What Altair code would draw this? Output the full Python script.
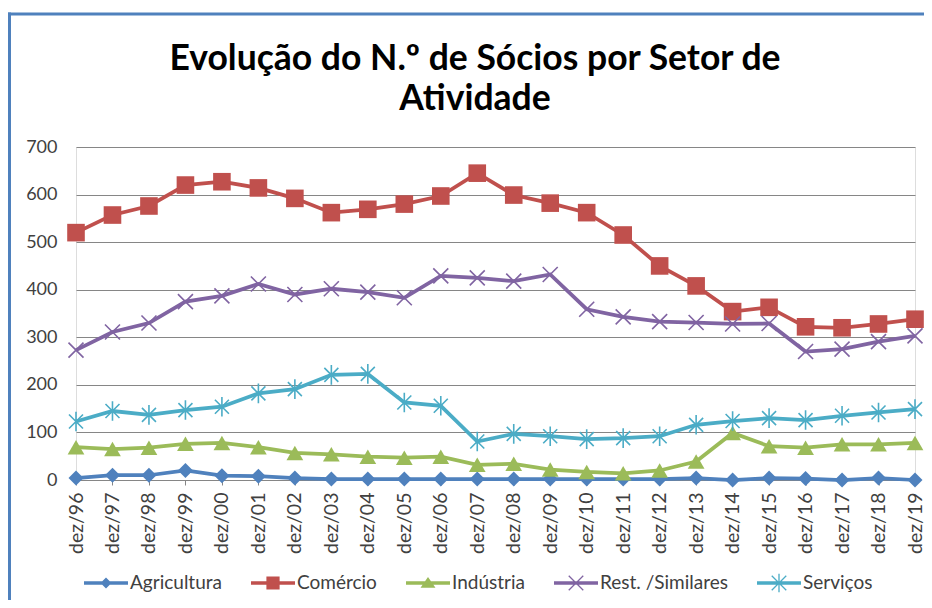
import altair as alt
import pandas as pd

anos = ["dez/96", "dez/97", "dez/98", "dez/99", "dez/00", "dez/01", "dez/02", "dez/03",
        "dez/04", "dez/05", "dez/06", "dez/07", "dez/08", "dez/09", "dez/10", "dez/11",
        "dez/12", "dez/13", "dez/14", "dez/15", "dez/16", "dez/17", "dez/18", "dez/19"]

agricultura = [4, 10, 10, 20, 9, 8, 4, 2, 2, 2, 2, 2, 2, 2, 2, 2, 2, 4, 0, 4, 3, 0, 4, 0]
comercio = [520, 557, 576, 620, 627, 614, 592, 562, 569, 580, 597, 645, 599, 582, 562, 515,
            450, 408, 354, 363, 322, 320, 328, 338]
industria = [69, 65, 68, 76, 78, 69, 57, 54, 49, 47, 49, 32, 34, 22, 17, 14, 20, 39, 99, 71,
             68, 75, 75, 78]
restauracao = [273, 311, 330, 375, 387, 412, 390, 402, 395, 383, 429, 425, 418, 432, 359, 343,
               333, 331, 328, 329, 270, 275, 291, 303]
servicos = [123, 145, 137, 147, 154, 182, 191, 221, 223, 163, 156, 81, 97, 92, 86, 88, 92,
            116, 124, 130, 126, 135, 142, 149]

setores = ["Agricultura", "Comércio", "Indústria", "Rest. /Similares", "Serviços"]
cores = ["#4F81BD", "#C0504D", "#9BBB59", "#8064A2", "#4BACC6"]
y_ticks = [0, 100, 200, 300, 400, 500, 600, 700]
titulo = ["Evolução do N.º de Sócios por Setor de", "Atividade"]

valores = [agricultura, comercio, industria, restauracao, servicos]
rows = []
for s, vals in zip(setores, valores):
    for a, v in zip(anos, vals):
        rows.append({"Ano": a, "Setor": s, "Valor": v})
df = pd.DataFrame(rows)

FONT = "Lato"
W, H = 839, 333

x_enc = alt.X("Ano:O", sort=anos, scale=alt.Scale(type="point", padding=0),
              axis=alt.Axis(title=None, labelAngle=270, labelFont=FONT, labelFontSize=19.5,
                            labelColor="#404040", tickSize=5, tickColor="#868686",
                            domainColor="#868686", labelPadding=7, grid=False))
y_enc = alt.Y("Valor:Q", scale=alt.Scale(domain=[0, 700], nice=False),
              axis=alt.Axis(title=None, values=y_ticks, labelFont=FONT, labelFontSize=18,
                            labelColor="#404040", ticks=False, domain=False, labelPadding=19,
                            grid=True, gridColor="#868686", gridWidth=1))

# marker styles (chart)
XPATH = "M-1,-1L1,1M-1,1L1,-1"
STAR = "M-1,-1L1,1M-1,1L1,-1M0,-1.4L0,1.4"
marcadores = [
    dict(shape="diamond", filled=True, size=225, strokeWidth=0),
    dict(shape="square", filled=True, size=310, strokeWidth=0),
    dict(shape="triangle-up", filled=True, size=280, strokeWidth=0),
    dict(shape=XPATH, filled=False, size=225, strokeWidth=1.6),
    dict(shape=STAR, filled=False, size=196, strokeWidth=1.6),
]


# legend symbol paths (line + marker as filled polygons)
def poly(pts):
    n = len(pts)
    a = sum(pts[i][0] * pts[(i + 1) % n][1] - pts[(i + 1) % n][0] * pts[i][1] for i in range(n))
    if a < 0:
        pts = pts[::-1]
    return "M" + "L".join(f"{px:.3f},{py:.3f}" for px, py in pts) + "Z"


def seg(x1, y1, x2, y2, w):
    dx, dy = x2 - x1, y2 - y1
    L = (dx * dx + dy * dy) ** 0.5
    nx, ny = -dy / L * w, dx / L * w
    return poly([(x1 + nx, y1 + ny), (x2 + nx, y2 + ny), (x2 - nx, y2 - ny), (x1 - nx, y1 - ny)])


base = poly([(-1, -0.08), (1, -0.08), (1, 0.08), (-1, 0.08)])
d, s = 0.25, 0.3
leg_paths = [
    base + poly([(0, -d), (d, 0), (0, d), (-d, 0)]),
    base + poly([(-s, -s), (s, -s), (s, s), (-s, s)]),
    base + poly([(0, -0.27), (0.34, 0.22), (-0.34, 0.22)]),
    base + seg(-0.33, -0.33, 0.33, 0.33, 0.03) + seg(-0.33, 0.33, 0.33, -0.33, 0.03),
    base + seg(-0.33, -0.33, 0.33, 0.33, 0.03) + seg(-0.33, 0.33, 0.33, -0.33, 0.03)
    + seg(0, -0.42, 0, 0.42, 0.03),
]

layers = []
for setor, cor, mk in zip(setores, cores, marcadores):
    sub = alt.Chart(df).transform_filter(alt.datum.Setor == setor)
    layers.append(sub.mark_line(color=cor, strokeWidth=3.75).encode(x=x_enc, y=y_enc))
    layers.append(sub.mark_point(color=cor, opacity=1, **mk).encode(x=x_enc, y=y_enc))

legenda = alt.Legend(title=None, orient="none", legendX=8, legendY=414, direction="horizontal",
                     columns=5, symbolSize=1936, symbolStrokeWidth=0, symbolOpacity=1,
                     labelFont=FONT, labelFontSize=19, labelColor="#404040", labelOffset=2,
                     columnPadding=29, padding=0, labelLimit=300)
legend_layer = alt.Chart(df).transform_filter("false").mark_point(filled=True, opacity=1).encode(
    x=x_enc, y=y_enc,
    color=alt.Color("Setor:N", scale=alt.Scale(domain=setores, range=cores), legend=legenda),
    shape=alt.Shape("Setor:N", scale=alt.Scale(domain=setores, range=leg_paths), legend=legenda),
)

single = alt.Data(values=[{"k": 0}])
frame_top = alt.Chart(single).mark_rule(color="#4F81BD", strokeWidth=3).encode(
    x=alt.value(-68), x2=alt.value(W + 30), y=alt.value(-133))
frame_left = alt.Chart(single).mark_rule(color="#4F81BD", strokeWidth=3).encode(
    x=alt.value(-66.5), y=alt.value(-134.5), y2=alt.value(H + 130))

title_layers = []
for linha, ty in zip(titulo, [-77, -37]):
    title_layers.append(
        alt.Chart(single).mark_text(font=FONT, fontSize=35.5, fontWeight="bold", color="#000000",
                                    align="center", baseline="alphabetic").encode(
            x=alt.value(399), y=alt.value(ty), text=alt.value(linha)))

chart = alt.layer(frame_top, frame_left, *title_layers, *layers, legend_layer).properties(
    width=W, height=H,
    autosize=alt.AutoSizeParams(type="none"),
    padding={"left": 68, "top": 139, "right": 9, "bottom": 120},
).configure_view(stroke=None).configure(background="white")

chart.save("out.html", embed_options={"renderer": "svg", "actions": False})
